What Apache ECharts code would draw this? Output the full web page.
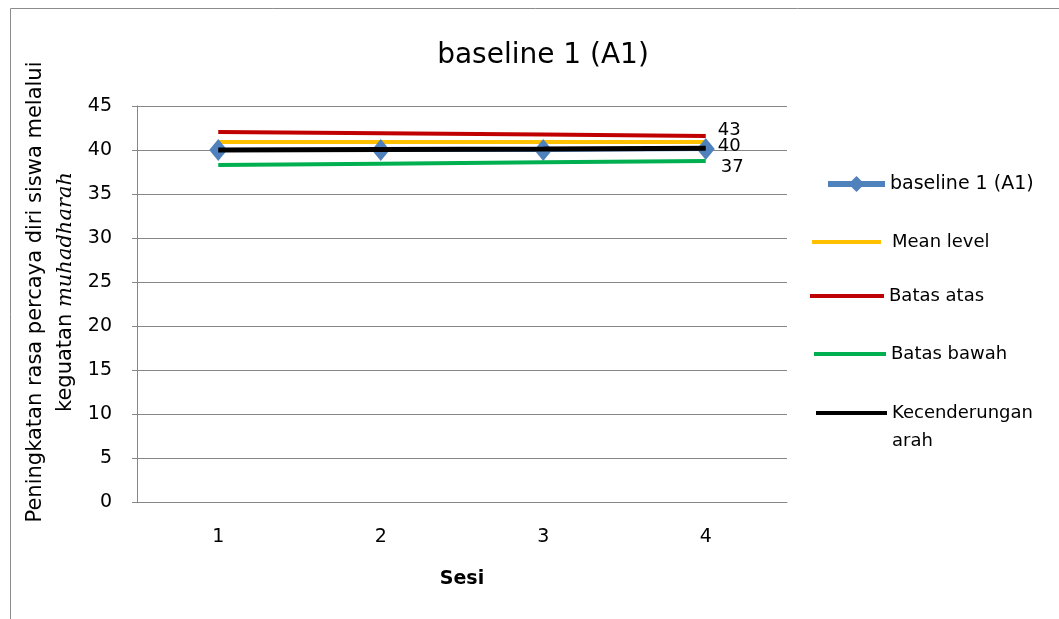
<!DOCTYPE html>
<html><head><meta charset="utf-8">
<script src="https://cdn.jsdelivr.net/npm/echarts@6/dist/echarts.min.js"></script>
<style>html,body{margin:0;padding:0;background:#fff}#c{width:1059px;height:619px}</style>
</head><body><div id="c"></div>
<script>
const categories = ['1', '2', '3', '4'];
const baseline = [40, 40, 40, 40.1];
const meanLevel = [40.9, 40.9, 40.9, 40.9];
const batasAtas = [42.05, 41.9, 41.75, 41.6];
const batasBawah = [38.3, 38.45, 38.6, 38.75];
const kecenderungan = [40, 40.05, 40.1, 40.2];
const endLabels = ['43', '40', '37'];

const FONT = '"DejaVu Sans", sans-serif';
const chart = echarts.init(document.getElementById('c'));

function endLabel(text, offset) {
  return { show: true, formatter: text, distance: 12, offset: offset,
    fontFamily: FONT, fontSize: 18, color: '#000' };
}

function legendAt(name, left, top, w, h, extra) {
  return Object.assign({
    data: [{ name: name, icon: 'rect' }], left: left, top: top, itemWidth: w, itemHeight: h, itemGap: 0,
    textStyle: { fontFamily: FONT, fontSize: 18, color: '#000', lineHeight: 24 }, selectedMode: false
  }, extra || {});
}

const option = {
  animation: false,
  backgroundColor: '#fff',
  title: {
    text: 'baseline 1 (A1)', left: 538, top: 37, textAlign: 'center',
    textStyle: { fontFamily: FONT, fontSize: 28, fontWeight: 'normal', color: '#000' }
  },
  graphic: [{
    type: 'rect', shape: { x: 10.5, y: 8.5, width: 1100, height: 700 },
    style: { fill: 'none', stroke: '#8c8c8c', lineWidth: 1 }, silent: true
  }],
  legend: [
    {
      data: ['baseline 1 (A1)'], left: 820, top: 167, itemWidth: 57, itemHeight: 20, itemGap: 0,
      lineStyle: { width: 6 },
      textStyle: { fontFamily: FONT, fontSize: 19, color: '#000', lineHeight: 24 }, selectedMode: false
    },
    legendAt('Mean level', 807, 225, 69, 4, { textStyle: { fontFamily: FONT, fontSize: 18, color: '#000', lineHeight: 24, padding: [0, 0, 0, 6] } }),
    legendAt('Batas atas', 805, 279, 74, 4),
    legendAt('Batas bawah', 809, 337, 72, 4),
    legendAt('Kecenderungan arah', 811, 366, 71, 4, {
      formatter: () => ' \nKecenderungan\narah',
      textStyle: { fontFamily: FONT, fontSize: 18, color: '#000', lineHeight: 28 }
    })
  ],
  grid: { left: 137, right: 272, top: 106, bottom: 117, outerBoundsMode: 'none', containLabel: false },
  xAxis: {
    type: 'category', data: categories, boundaryGap: true,
    name: 'Sesi', nameLocation: 'middle', nameGap: 68,
    nameTextStyle: { fontFamily: FONT, fontSize: 19, fontWeight: 'bold', color: '#000' },
    axisLine: { lineStyle: { color: '#868686', width: 1 } },
    axisTick: { show: false },
    axisLabel: { fontFamily: FONT, fontSize: 19, color: '#000', margin: 26 }
  },
  yAxis: {
    type: 'value', min: 0, max: 45, interval: 5,
    name: '{a|Peningkatan rasa percaya diri siswa melalui}\n{a|keguatan }{b|muhadharah}',
    nameLocation: 'middle', nameGap: 56, nameRotate: 90,
    nameTextStyle: {
      padding: [0, 0, 0, 24],
      rich: {
        a: { fontFamily: FONT, fontSize: 21, color: '#000', lineHeight: 30 },
        b: { fontFamily: '"DejaVu Serif", serif', fontStyle: 'italic', fontSize: 21, color: '#000', lineHeight: 30 }
      }
    },
    axisLine: { show: true, lineStyle: { color: '#868686', width: 1 } },
    axisTick: { show: true, length: 5, lineStyle: { color: '#868686' } },
    splitLine: { lineStyle: { color: '#868686', width: 1 } },
    axisLabel: { fontFamily: FONT, fontSize: 19, color: '#000', margin: 25 }
  },
  series: [
    { name: 'Mean level', type: 'line', data: meanLevel, symbol: 'none', z: 3,
      lineStyle: { color: '#FFC000', width: 4 }, itemStyle: { color: '#FFC000' } },
    { name: 'Batas atas', type: 'line', data: batasAtas, symbol: 'none', z: 3,
      endLabel: endLabel(endLabels[0], [0, -6]),
      lineStyle: { color: '#C00000', width: 4 }, itemStyle: { color: '#C00000' } },
    { name: 'Batas bawah', type: 'line', data: batasBawah, symbol: 'none', z: 3,
      endLabel: endLabel(endLabels[2], [3, 6]),
      lineStyle: { color: '#00B050', width: 4 }, itemStyle: { color: '#00B050' } },
    { name: 'baseline 1 (A1)', type: 'line', data: baseline, symbol: 'diamond', symbolSize: [18, 22], z: 4,
      lineStyle: { color: '#4F81BD', width: 4 }, itemStyle: { color: '#4F81BD' } },
    { name: 'Kecenderungan arah', type: 'line', data: kecenderungan, symbol: 'none', z: 5,
      endLabel: endLabel(endLabels[1], [0, -2]),
      lineStyle: { color: '#000', width: 5 }, itemStyle: { color: '#000' } }
  ]
};
chart.setOption(option);
</script></body></html>
